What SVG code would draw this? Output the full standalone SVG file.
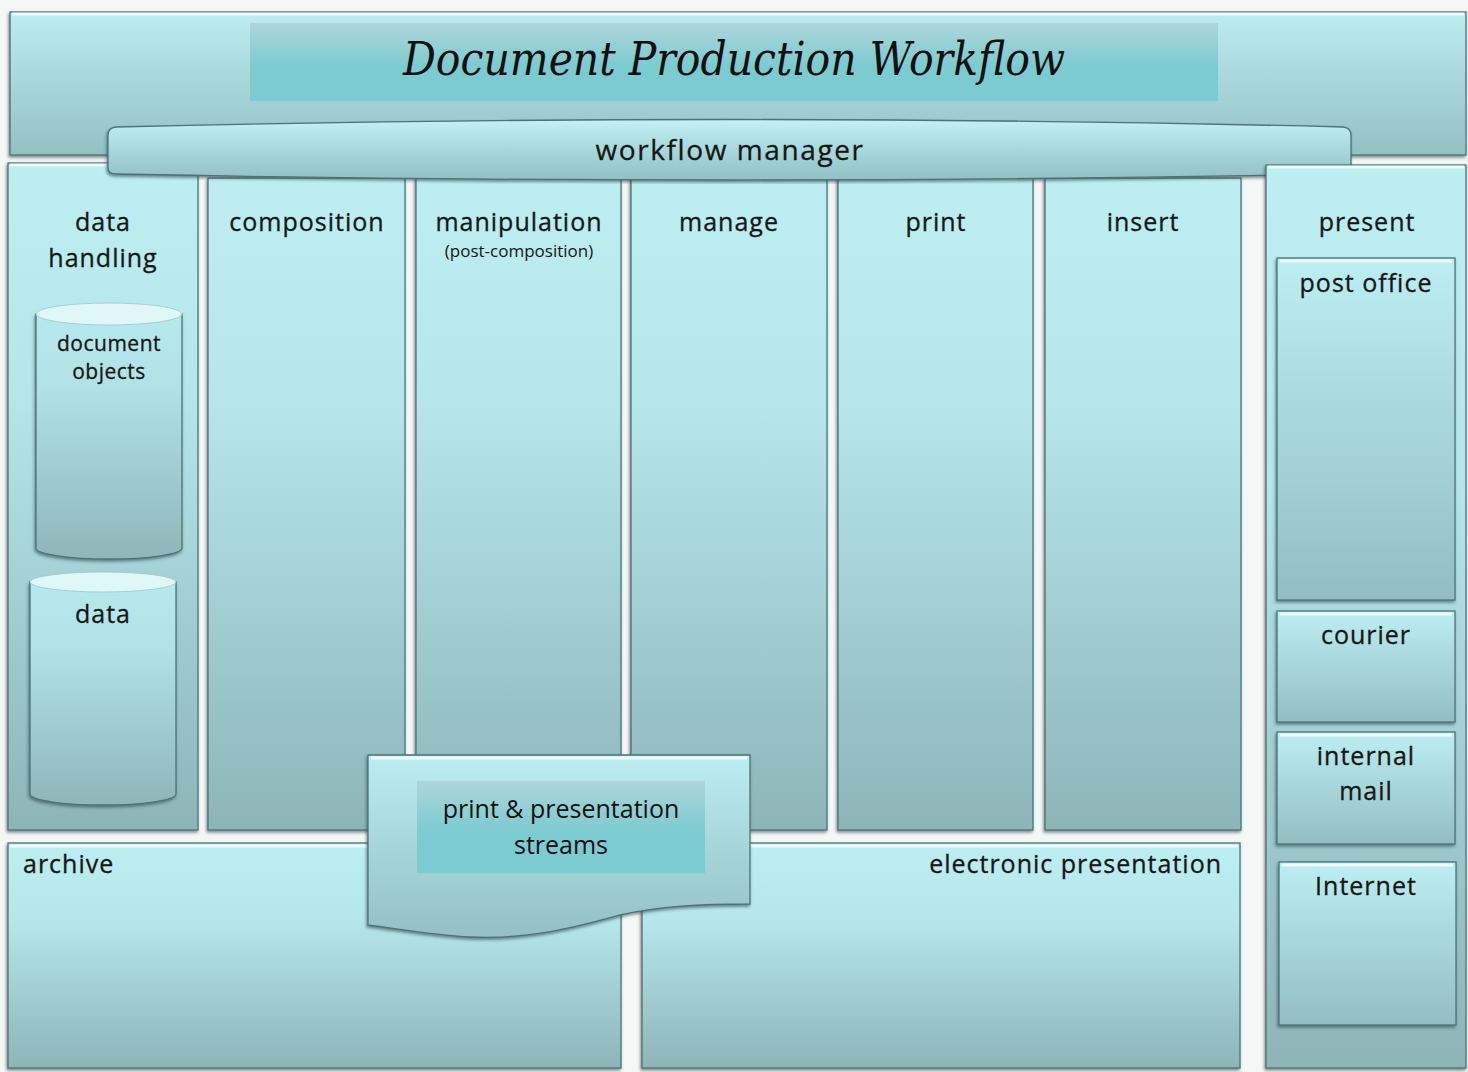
<svg xmlns="http://www.w3.org/2000/svg" width="1468" height="1072" viewBox="0 0 1468 1072">
<defs>
<linearGradient id="gPanel" x1="0" y1="0" x2="0" y2="1">
<stop offset="0" stop-color="#bdeef2"/>
<stop offset="0.35" stop-color="#b5e6ea"/>
<stop offset="1" stop-color="#8db5b8"/>
</linearGradient>
<linearGradient id="gHead" x1="0" y1="0" x2="0" y2="1">
<stop offset="0" stop-color="#bcedf1"/>
<stop offset="1" stop-color="#93c0c3"/>
</linearGradient>
<linearGradient id="gTitle" x1="0" y1="0" x2="0" y2="1">
<stop offset="0" stop-color="#aed6d9"/>
<stop offset="0.55" stop-color="#7ccbd0"/>
<stop offset="1" stop-color="#7ccbd0"/>
</linearGradient>
<linearGradient id="gBar" x1="0" y1="0" x2="0" y2="1">
<stop offset="0" stop-color="#c4f1f4"/>
<stop offset="0.3" stop-color="#b2e2e6"/>
<stop offset="1" stop-color="#92c0c3"/>
</linearGradient>
<linearGradient id="gCyl" x1="0" y1="0" x2="0" y2="1">
<stop offset="0" stop-color="#b6e9ed"/>
<stop offset="0.3" stop-color="#b0e2e6"/>
<stop offset="1" stop-color="#8fb6b9"/>
</linearGradient>
<linearGradient id="gSub" x1="0" y1="0" x2="0" y2="1">
<stop offset="0" stop-color="#bceef2"/>
<stop offset="1" stop-color="#93bec1"/>
</linearGradient>
<filter id="sh" x="-5%" y="-5%" width="110%" height="110%">
<feDropShadow dx="-1" dy="2" stdDeviation="1.5" flood-color="#2f4a4c" flood-opacity="0.6"/>
</filter>
</defs>
<style>
.box{stroke:#4d7376;stroke-width:1.3;filter:url(#sh)}
.hl{stroke:#ffffff;stroke-opacity:0.75;stroke-width:3;fill:none}
.lbl{font-family:"Open Sans","Noto Sans","DejaVu Sans",sans-serif;font-size:25px;fill:#161616;text-anchor:middle;letter-spacing:1px;stroke:#161616;stroke-width:0.3}
.sm{font-family:"Open Sans","Noto Sans","DejaVu Sans",sans-serif;font-size:17px;fill:#161616;text-anchor:middle}
.cal{font-family:"Open Sans","Noto Sans",sans-serif;font-size:25px;fill:#111;text-anchor:middle}
.title{font-family:"DejaVu Serif","Liberation Serif",serif;font-style:italic;font-size:46px;fill:#111;text-anchor:middle}
</style>
<rect x="0" y="0" width="1468" height="1072" fill="#f5f6f6"/>

<g id="header">
<rect class="box" x="10" y="12" width="1456" height="143" fill="url(#gHead)"/>
<line class="hl" x1="12" y1="14" x2="1464" y2="14"/>
<rect x="250" y="23" width="968" height="78" fill="url(#gTitle)"/>
<text class="title" x="734" y="75" textLength="662" lengthAdjust="spacingAndGlyphs">Document Production Workflow</text>
</g>

<g id="data-handling">
<rect class="box" x="8" y="163" width="190" height="667" fill="url(#gPanel)"/>
<line class="hl" x1="10" y1="165" x2="196" y2="165"/>
<text class="lbl" x="103" y="231">data</text>
<text class="lbl" x="103" y="267">handling</text>
</g>

<g id="document-objects">
<path class="box" d="M36,314 L36,548 A73,11 0 0 0 182,548 L182,314 Z" fill="url(#gCyl)"/>
<ellipse cx="109" cy="314" rx="73" ry="11" fill="#dff7f9" stroke="#9cc6c9" stroke-width="0.8"/>
<text class="lbl" x="109" y="351" style="font-size:21px;letter-spacing:0.5px">document</text>
<text class="lbl" x="109" y="379" style="font-size:21px;letter-spacing:0.5px">objects</text>
</g>

<g id="data">
<path class="box" d="M30,582 L30,794 A73,11 0 0 0 176,794 L176,582 Z" fill="url(#gCyl)"/>
<ellipse cx="103" cy="582" rx="73" ry="10" fill="#dff7f9" stroke="#9cc6c9" stroke-width="0.8"/>
<text class="lbl" x="103" y="623">data</text>
</g>

<g id="composition">
<rect class="box" x="208" y="178" width="197" height="652" fill="url(#gPanel)"/>
<text class="lbl" x="307" y="231">composition</text>
</g>
<g id="manipulation">
<rect class="box" x="416" y="178" width="205" height="652" fill="url(#gPanel)"/>
<text class="lbl" x="519" y="231">manipulation</text>
<text class="sm" x="519" y="257">(post-composition)</text>
</g>
<g id="manage">
<rect class="box" x="631" y="178" width="196" height="652" fill="url(#gPanel)"/>
<text class="lbl" x="729" y="231">manage</text>
</g>
<g id="print">
<rect class="box" x="838" y="178" width="195" height="652" fill="url(#gPanel)"/>
<text class="lbl" x="936" y="231">print</text>
</g>
<g id="insert">
<rect class="box" x="1045" y="178" width="196" height="652" fill="url(#gPanel)"/>
<text class="lbl" x="1143" y="231">insert</text>
</g>

<g id="workflow-manager">
<path class="box" d="M108,135 Q108,128 116,127 Q730,112 1343,127 Q1351,128 1351,135 L1351,168 Q1351,174 1343,174 Q730,186 116,174 Q108,174 108,168 Z" fill="url(#gBar)"/>
<text class="lbl" x="730" y="160" style="font-size:28px;letter-spacing:1.6px">workflow manager</text>
</g>

<g id="present">
<rect class="box" x="1266" y="165" width="200" height="903" fill="url(#gPanel)"/>
<line class="hl" x1="1268" y1="167" x2="1464" y2="167"/>
<text class="lbl" x="1367" y="231">present</text>
</g>
<g id="post-office">
<rect class="box" x="1277" y="258" width="178" height="342" fill="url(#gSub)"/>
<line class="hl" x1="1280" y1="261" x2="1452" y2="261"/>
<text class="lbl" x="1366" y="292">post office</text>
</g>
<g id="courier">
<rect class="box" x="1277" y="611" width="178" height="111" fill="url(#gSub)"/>
<line class="hl" x1="1280" y1="614" x2="1452" y2="614"/>
<text class="lbl" x="1366" y="644">courier</text>
</g>
<g id="internal-mail">
<rect class="box" x="1277" y="732" width="178" height="112" fill="url(#gSub)"/>
<line class="hl" x1="1280" y1="735" x2="1452" y2="735"/>
<text class="lbl" x="1366" y="765">internal</text>
<text class="lbl" x="1366" y="800">mail</text>
</g>
<g id="internet">
<rect class="box" x="1279" y="862" width="177" height="163" fill="url(#gSub)"/>
<line class="hl" x1="1282" y1="865" x2="1453" y2="865"/>
<text class="lbl" x="1366" y="895">Internet</text>
</g>

<g id="archive">
<rect class="box" x="8" y="843" width="613" height="225" fill="url(#gPanel)"/>
<line class="hl" x1="10" y1="846" x2="619" y2="846"/>
<text class="lbl" x="23" y="873" style="text-anchor:start">archive</text>
</g>
<g id="electronic-presentation">
<rect class="box" x="642" y="843" width="598" height="225" fill="url(#gPanel)"/>
<line class="hl" x1="644" y1="846" x2="1238" y2="846"/>
<text class="lbl" x="1222" y="873" style="text-anchor:end">electronic presentation</text>
</g>

<g id="print-presentation-streams">
<path class="box" d="M368,755 L750,755 L750,904 C700,904 660,906 620,915 C580,926 530,940 470,937 C430,935 400,929 368,925 Z" fill="url(#gHead)"/>
<line class="hl" x1="371" y1="758" x2="747" y2="758"/>
<rect x="417" y="781" width="288" height="92" fill="url(#gTitle)"/>
<text class="cal" x="561" y="818">print &amp; presentation</text>
<text class="cal" x="561" y="854">streams</text>
</g>

<g id="connectors"></g>
</svg>
